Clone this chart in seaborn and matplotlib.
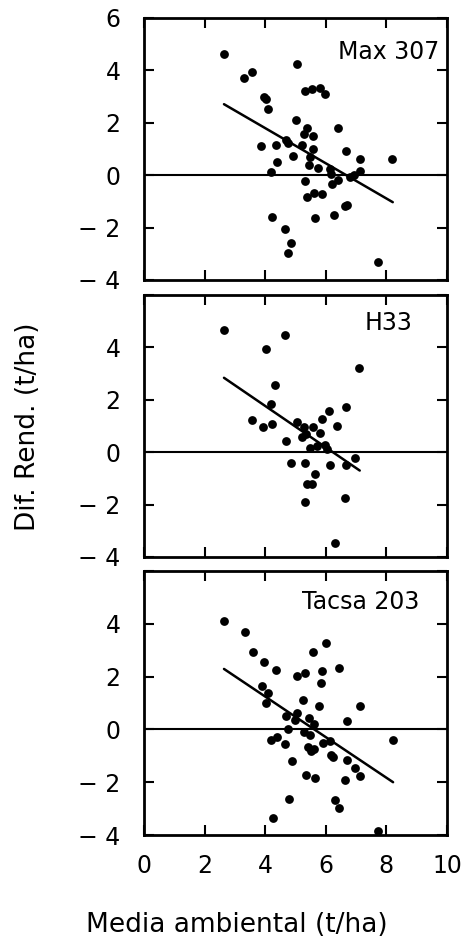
import matplotlib
matplotlib.use("Agg")
import matplotlib.pyplot as plt
import pandas as pd
import seaborn as sns

# --- Diferencia de rendimiento frente a la media ambiental, por híbrido ---
hibridos = ["Max 307", "H33", "Tacsa 203"]

max307_x = [2.64, 5.05, 3.30, 3.58, 5.30, 5.55, 5.82, 5.97, 3.96, 4.04,
            4.08, 5.03, 6.40, 5.38, 5.27, 5.57, 3.87, 4.34, 4.69, 4.75,
            5.22, 5.58, 6.68, 7.12, 8.19, 4.92, 5.49, 4.40, 5.44, 5.75,
            6.15, 4.18, 6.18, 6.92, 7.14, 6.79, 6.41, 6.22, 5.32, 5.38,
            5.60, 5.88, 6.65, 6.70, 5.64, 6.26, 4.24, 4.65, 4.85, 4.76,
            7.73]
max307_y = [4.61, 4.24, 3.72, 3.95, 3.23, 3.28, 3.32, 3.10, 3.00, 2.92,
            2.53, 2.09, 1.82, 1.80, 1.58, 1.51, 1.10, 1.16, 1.35, 1.23,
            1.14, 1.01, 0.94, 0.63, 0.61, 0.72, 0.70, 0.49, 0.39, 0.28,
            0.25, 0.13, 0.03, 0.00, 0.15, -0.06, -0.20, -0.33, -0.22, -0.84,
            -0.67, -0.70, -1.18, -1.15, -1.62, -1.53, -1.59, -2.04, -2.58, -2.97,
            -3.33]

h33_x = [2.64, 4.65, 4.02, 7.11, 4.33, 4.18, 6.68, 6.12, 3.58, 5.87,
         5.05, 4.23, 3.93, 5.27, 5.57, 6.38, 5.82, 5.34, 5.22, 4.68,
         5.49, 5.71, 5.99, 6.04, 6.96, 4.84, 5.31, 6.14, 6.68, 5.63,
         5.38, 5.55, 5.32, 6.62, 6.29]
h33_y = [4.68, 4.49, 3.95, 3.23, 2.56, 1.83, 1.71, 1.58, 1.23, 1.27,
         1.14, 1.08, 0.95, 0.98, 0.98, 1.00, 0.72, 0.70, 0.57, 0.43,
         0.15, 0.22, 0.28, 0.13, -0.23, -0.43, -0.42, -0.47, -0.48, -0.82,
         -1.22, -1.22, -1.89, -1.74, -3.46]

tacsa203_x = [2.64, 3.32, 3.60, 3.96, 4.34, 6.00, 5.57, 6.42, 5.88, 5.05,
              5.33, 5.85, 3.88, 4.10, 4.04, 5.24, 5.78, 7.14, 4.70, 5.05,
              4.97, 5.44, 5.62, 6.70, 4.76, 5.27, 5.47, 4.40, 4.20, 4.66,
              5.90, 6.13, 8.21, 5.42, 5.52, 5.60, 6.18, 6.23, 6.71, 6.97,
              7.14, 4.87, 5.35, 5.66, 6.64, 4.78, 6.29, 6.44, 4.26, 7.73]
tacsa203_y = [4.11, 3.68, 2.92, 2.57, 2.25, 3.27, 2.94, 2.34, 2.23, 2.03,
              2.13, 1.75, 1.64, 1.36, 1.01, 1.13, 0.88, 0.88, 0.50, 0.62,
              0.34, 0.45, 0.19, 0.31, 0.03, -0.10, -0.23, -0.27, -0.42, -0.55,
              -0.52, -0.45, -0.39, -0.68, -0.80, -0.74, -0.96, -1.03, -1.15, -1.45,
              -1.75, -1.21, -1.72, -1.85, -1.91, -2.65, -2.69, -2.97, -3.34, -3.86]

# Rectas de regresión ajustadas (extremos sobre el rango de x)
max307_recta_x = [2.64, 8.21]
max307_recta_y = [2.71, -1.03]
h33_recta_x = [2.64, 7.12]
h33_recta_y = [2.84, -0.70]
tacsa203_recta_x = [2.64, 8.22]
tacsa203_recta_y = [2.29, -2.00]

x_ticks = [0, 2, 4, 6, 8, 10]
y_ticks = [-4, -2, 0, 2, 4, 6]

puntos = pd.concat([
    pd.DataFrame({"hibrido": "Max 307", "media": max307_x, "dif": max307_y}),
    pd.DataFrame({"hibrido": "H33", "media": h33_x, "dif": h33_y}),
    pd.DataFrame({"hibrido": "Tacsa 203", "media": tacsa203_x, "dif": tacsa203_y}),
], ignore_index=True)

rectas = pd.concat([
    pd.DataFrame({"hibrido": "Max 307", "media": max307_recta_x, "dif": max307_recta_y}),
    pd.DataFrame({"hibrido": "H33", "media": h33_recta_x, "dif": h33_recta_y}),
    pd.DataFrame({"hibrido": "Tacsa 203", "media": tacsa203_recta_x, "dif": tacsa203_recta_y}),
], ignore_index=True)

sns.set_theme(style="ticks")
plt.rcParams["font.family"] = ["DejaVu Sans"]
plt.rcParams["axes.linewidth"] = 2.0
plt.rcParams["axes.edgecolor"] = "black"

W, H = 474, 946
fig = plt.figure(figsize=(W / 100, H / 100), dpi=100)
fig.patch.set_facecolor("white")

# panel frames in pixels: left, right, then (top, bottom) of each panel
left_px, right_px = 144, 447
paneles = [(18, 280), (295, 557), (571, 835)]
etiqueta_pos = [(9.75, 4.7), (8.85, 4.95), (9.1, 4.84)]


def fmt(v):
    return f"\u2212 {abs(v)}" if v < 0 else f"{v}"


for i, (nombre, (top, bot), (tx, ty)) in enumerate(zip(hibridos, paneles, etiqueta_pos)):
    ax = fig.add_axes([left_px / W, 1 - bot / H, (right_px - left_px) / W, (bot - top) / H])
    ax.set_facecolor("white")
    sub = puntos[puntos.hibrido == nombre]
    sns.scatterplot(data=sub, x="media", y="dif", ax=ax, color="black",
                    s=40, linewidth=0, zorder=3, legend=False)
    sns.lineplot(data=rectas[rectas.hibrido == nombre], x="media", y="dif", ax=ax,
                 color="black", linewidth=1.8, zorder=4, legend=False)
    ax.axhline(0, color="black", linewidth=1.5, zorder=2)

    ax.set_xlim(0, 10)
    ax.set_ylim(-4, 6)
    ax.set_xticks(x_ticks)
    ax.set_yticks(y_ticks)
    ylabels = [fmt(v) for v in y_ticks]
    if i > 0:
        ylabels[-1] = ""
    ax.set_yticklabels(ylabels)
    if i == 2:
        ax.set_xticklabels([str(v) for v in x_ticks])
    else:
        ax.set_xticklabels([])
    ax.tick_params(axis="both", direction="in", length=7, width=1.5,
                   top=True, right=True, labelsize=17, colors="black")
    ax.tick_params(axis="y", pad=17)
    ax.tick_params(axis="x", pad=14)
    ax.set_xlabel("")
    ax.set_ylabel("")
    for s in ax.spines.values():
        s.set_linewidth(2.0)
        s.set_color("black")
    ax.text(tx, ty, nombre, ha="right", va="center", fontsize=17, color="black")

fig.text(28 / W, 1 - 427 / H, "Dif. Rend. (t/ha)", rotation=90,
         ha="center", va="center", fontsize=19, color="black")
fig.text(86 / W, 1 - 925 / H, "Media ambiental (t/ha)",
         ha="left", va="center", fontsize=19, color="black")

fig.savefig("out.png", dpi=100, facecolor="white")
